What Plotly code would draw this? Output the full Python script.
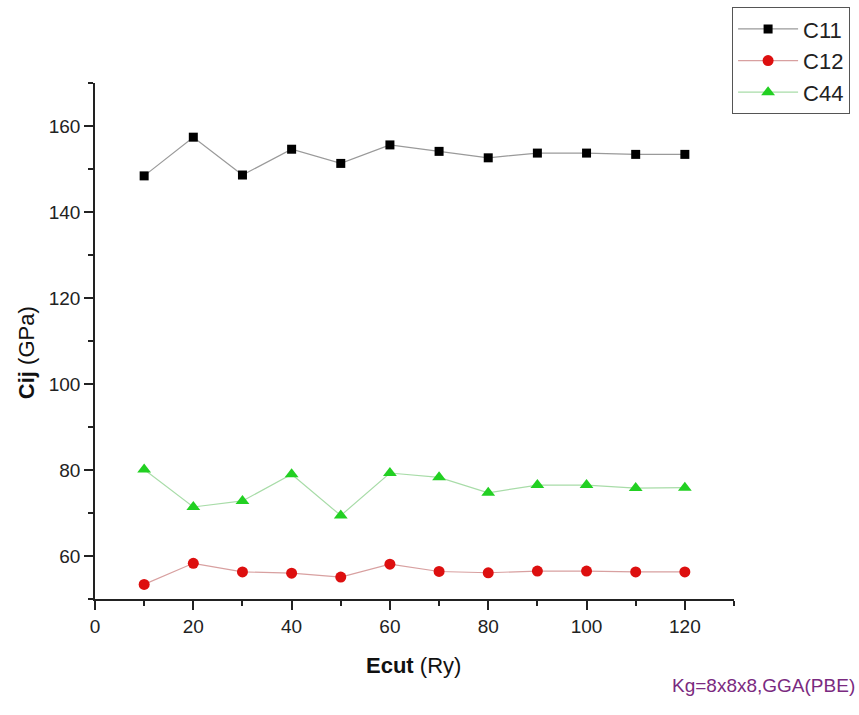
import plotly.graph_objects as go

# Plane-wave cutoff energies (Ry)
ecut = [10, 20, 30, 40, 50, 60, 70, 80, 90, 100, 110, 120]

# Elastic constants (GPa)
c11 = [148.4, 157.4, 148.6, 154.6, 151.3, 155.6, 154.1, 152.6, 153.7, 153.7, 153.4, 153.4]
c12 = [53.4, 58.3, 56.3, 56.0, 55.1, 58.1, 56.4, 56.1, 56.5, 56.5, 56.3, 56.3]
c44 = [80.1, 71.4, 72.8, 79.0, 69.4, 79.3, 78.3, 74.7, 76.5, 76.5, 75.8, 75.9]

FONT = "Liberation Sans, Arial, sans-serif"

fig = go.Figure()
fig.add_trace(go.Scatter(
    x=ecut, y=c11, name="C11", mode="lines+markers",
    line=dict(color="#9a9a9a", width=1.2),
    marker=dict(symbol="square", size=9, color="#000000"),
))
fig.add_trace(go.Scatter(
    x=ecut, y=c12, name="C12", mode="lines+markers",
    line=dict(color="#d8a0a0", width=1.2),
    marker=dict(symbol="circle", size=11, color="#dd0f0f"),
))
fig.add_trace(go.Scatter(
    x=ecut, y=c44, name="C44", mode="lines+markers",
    line=dict(color="#a8dca8", width=1.2),
    marker=dict(symbol="triangle-up", size=12, color="#22d022"),
))

axis_common = dict(
    showgrid=False, zeroline=False, showline=True, linecolor="#222222", linewidth=1.6,
    ticks="outside", ticklen=9, tickwidth=1.6, tickcolor="#222222",
    tickfont=dict(family=FONT, size=19, color="#222222"),
    mirror=False,
)

fig.update_xaxes(
    range=[0, 130], tick0=0, dtick=20,
    minor=dict(ticks="outside", dtick=10, tick0=0, ticklen=5, tickwidth=1.6, tickcolor="#222222"),
    **axis_common,
)
fig.update_yaxes(
    range=[50, 170], tick0=0, dtick=20,
    minor=dict(ticks="outside", dtick=10, tick0=0, ticklen=5, tickwidth=1.6, tickcolor="#222222"),
    **axis_common,
)

fig.update_layout(
    width=859, height=715,
    margin=dict(l=95, r=125, t=83, b=116, autoexpand=False),
    paper_bgcolor="white", plot_bgcolor="white",
    font=dict(family=FONT, color="#222222"),
    showlegend=True,
    legend=dict(
        x=0.997, y=1.147, xanchor="left", yanchor="top",
        bordercolor="#555555", borderwidth=1, bgcolor="white",
        font=dict(family=FONT, size=22, color="#222222"),
        tracegroupgap=0, itemwidth=60,
    ),
    annotations=[
        dict(text="<b>Ecut</b> (Ry)", x=0.498, y=-0.128, xref="paper", yref="paper",
             xanchor="center", yanchor="middle", showarrow=False,
             font=dict(family=FONT, size=22, color="#111111")),
        dict(text="<b>Cij</b> (GPa)", x=-0.106, y=0.477, xref="paper", yref="paper",
             xanchor="center", yanchor="middle", showarrow=False, textangle=-90,
             font=dict(family=FONT, size=22, color="#111111")),
        dict(text="Kg=8x8x8,GGA(PBE)", x=1.1925, y=-0.1667, xref="paper", yref="paper",
             xanchor="right", yanchor="middle", showarrow=False,
             font=dict(family=FONT, size=19, color="#7a2a80")),
    ],
)

fig.write_html("out.html")
